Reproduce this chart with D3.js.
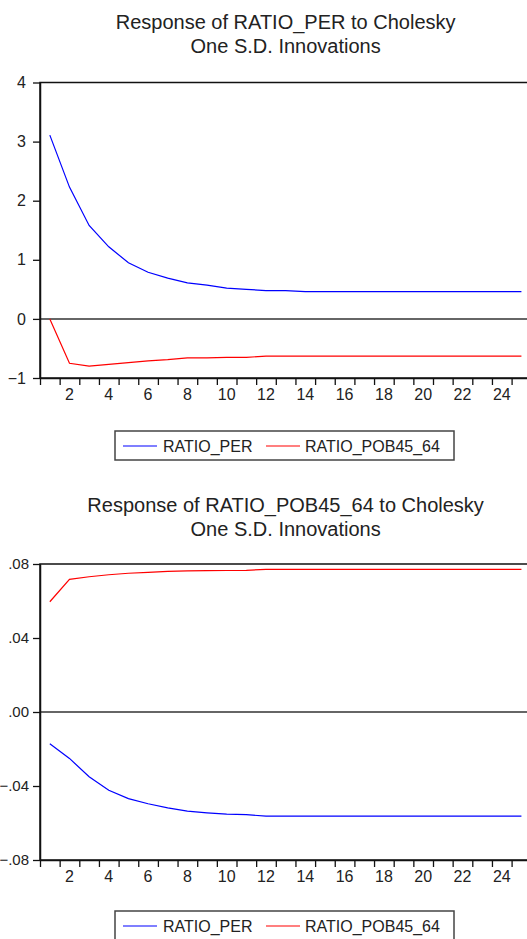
<!DOCTYPE html>
<html>
<head>
<meta charset="utf-8">
<script src="https://cdn.jsdelivr.net/npm/d3@7"></script>
<style>
  body { margin: 0; background: #fff; }
  text { font-family: "Liberation Sans", Arial, sans-serif; fill: #222; }
</style>
</head>
<body>
<svg id="chart" width="527" height="939"></svg>
<script>
// Data
var periods = [1,2,3,4,5,6,7,8,9,10,11,12,13,14,15,16,17,18,19,20,21,22,23,24,25];
var periodLabels = [2,4,6,8,10,12,14,16,18,20,22,24];
var seriesNames = ["RATIO_PER", "RATIO_POB45_64"];
var seriesColors = ["#0000ff", "#ff0000"];

// Response of RATIO_PER
var perToPer = [3.11, 2.23, 1.58, 1.22, 0.95, 0.79, 0.69, 0.61, 0.57, 0.52, 0.50, 0.48, 0.48, 0.46,
                0.46, 0.46, 0.46, 0.46, 0.46, 0.46, 0.46, 0.46, 0.46, 0.46, 0.46];
var perToPob = [0, -0.75, -0.80, -0.77, -0.74, -0.71, -0.69, -0.66, -0.66, -0.65, -0.65, -0.63, -0.63, -0.63,
                -0.63, -0.63, -0.63, -0.63, -0.63, -0.63, -0.63, -0.63, -0.63, -0.63, -0.63];
var perTicks = [-1, 0, 1, 2, 3, 4];

// Response of RATIO_POB45_64
var pobToPer = [-0.0172, -0.0251, -0.0350, -0.0423, -0.0468, -0.0496, -0.0518, -0.0536, -0.0545, -0.0552,
                -0.0555, -0.0563, -0.0563, -0.0563, -0.0563, -0.0563, -0.0563, -0.0563, -0.0563, -0.0563,
                -0.0563, -0.0563, -0.0563, -0.0563, -0.0563];
var pobToPob = [0.0596, 0.0717, 0.0731, 0.0742, 0.0750, 0.0755, 0.0760, 0.0763, 0.0764, 0.0765,
                0.0766, 0.0771, 0.0771, 0.0771, 0.0771, 0.0771, 0.0771, 0.0771, 0.0771, 0.0771,
                0.0771, 0.0771, 0.0771, 0.0771, 0.0771];
var pobTicks = [-0.08, -0.04, 0, 0.04, 0.08];

var svg = d3.select("svg#chart");
var left = 40, right = 40 + 25 * 19.65;

function drawPanel(opt) {
    var g = svg.append("g");
    var x = d3.scaleBand().domain(periods).range([left, right]).padding(0);
    var xb = d3.scaleLinear().domain([0, periods.length]).range([left, right]);
    var y = d3.scaleLinear().domain(opt.domain).range([opt.bottom, opt.top]);

    // title
    g.append("text").attr("x", (left + right) / 2).attr("y", opt.titleY).attr("text-anchor", "middle")
        .style("font-size", "20px").text(opt.title);
    g.append("text").attr("x", (left + right) / 2).attr("y", opt.titleY + 23.5).attr("text-anchor", "middle")
        .style("font-size", "20px").text("One S.D. Innovations");

    // frame
    g.append("rect").attr("x", left).attr("y", opt.top).attr("width", right - left).attr("height", opt.bottom - opt.top)
        .attr("fill", "none").attr("stroke", "#111").attr("stroke-width", 1.5);

    // zero line
    g.append("line").attr("x1", left).attr("x2", right).attr("y1", y(0)).attr("y2", y(0))
        .attr("stroke", "#333").attr("stroke-width", 1.5);

    // y axis
    var yAxis = d3.axisLeft(y).tickValues(opt.ticks).tickFormat(opt.fmt).tickSize(7).tickPadding(opt.yPad).tickSizeOuter(0);
    var ya = g.append("g").attr("transform", "translate(" + left + ",0)").call(yAxis);
    ya.select(".domain").attr("stroke", "#111").attr("stroke-width", 1.5);
    ya.selectAll(".tick line").attr("stroke", "#111").attr("stroke-width", 1.3);
    ya.selectAll("text").style("font-size", opt.ySize).attr("fill", "#222").attr("font-family", null);

    // x axis: ticks on band edges, labels at band centres
    var xAxis = d3.axisBottom(xb).tickValues(d3.range(0, periods.length + 1)).tickFormat("").tickSize(7).tickSizeOuter(0);
    var xa = g.append("g").attr("transform", "translate(0," + opt.bottom + ")").call(xAxis);
    xa.select(".domain").attr("stroke", "#111").attr("stroke-width", 1.5);
    xa.selectAll(".tick line").attr("stroke", "#111").attr("stroke-width", 1.3);

    var xl = g.append("g").attr("transform", "translate(0," + opt.bottom + ")")
        .call(d3.axisBottom(x).tickValues(periodLabels).tickSize(0).tickPadding(11));
    xl.select(".domain").remove();
    xl.selectAll("text").style("font-size", "16px").attr("fill", "#222").attr("font-family", null);

    // lines
    var line = d3.line().x(function(d, i) { return x(periods[i]) + x.bandwidth() / 2; })
        .y(function(d) { return y(d); });
    opt.series.forEach(function(s, i) {
        g.append("path").datum(s).attr("fill", "none").attr("stroke", seriesColors[i])
            .attr("stroke-width", 1.2).attr("d", line);
    });

    // legend
    var lg = g.append("g").attr("transform", "translate(115," + opt.legendY + ")");
    lg.append("rect").attr("x", 0).attr("y", 0).attr("width", 339).attr("height", 29)
        .attr("fill", "#fff").attr("stroke", "#444").attr("stroke-width", 1.5);
    var items = [{x: 8, tx: 48}, {x: 151, tx: 190}];
    seriesNames.forEach(function(n, i) {
        lg.append("line").attr("x1", items[i].x).attr("x2", items[i].x + 34).attr("y1", 15).attr("y2", 15)
            .attr("stroke", seriesColors[i]).attr("stroke-width", 1.2);
        lg.append("text").attr("x", items[i].tx).attr("y", 21).style("font-size", "16px").text(n);
    });
}

drawPanel({
    title: "Response of RATIO_PER to Cholesky", titleY: 29,
    top: 82.5, bottom: 378, domain: [-1, 4], ticks: perTicks, fmt: d3.format("d"), ySize: "16px", yPad: 7,
    series: [perToPer, perToPob], legendY: 431
});

drawPanel({
    title: "Response of RATIO_POB45_64 to Cholesky", titleY: 512,
    top: 564, bottom: 860, domain: [-0.08, 0.08], ticks: pobTicks, ySize: "15px", yPad: 4,
    fmt: function(d) { return d3.format(".2f")(d).replace("0.", "."); },
    series: [pobToPer, pobToPob], legendY: 911
});
</script>
</body>
</html>
